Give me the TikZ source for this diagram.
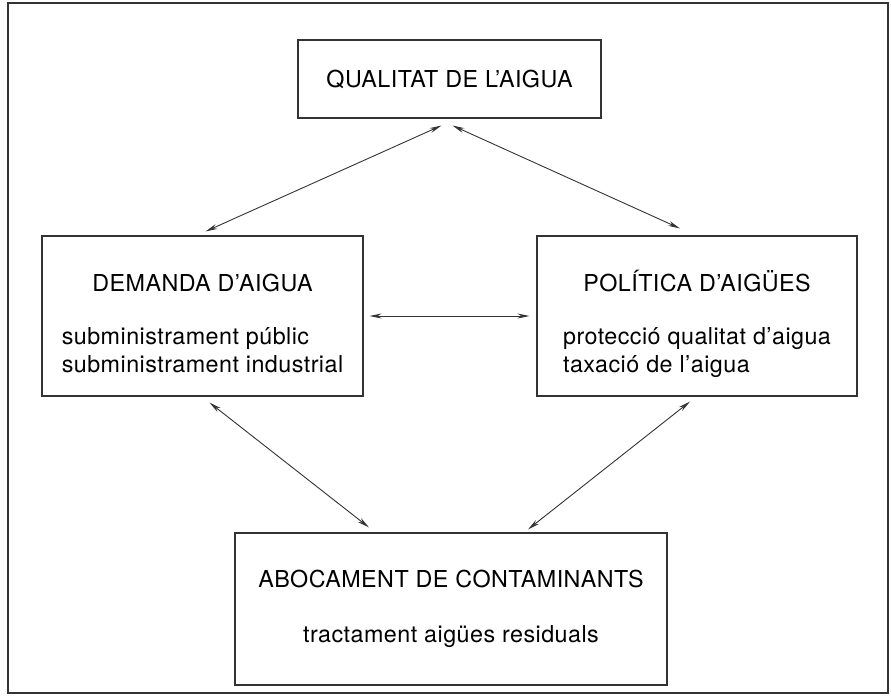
\documentclass[tikz,border=0pt]{standalone}
\usepackage{fontspec}
\setmainfont{TeX Gyre Heros}[LetterSpace=2.0]
\usepackage{tikz}
\usetikzlibrary{arrows.meta, calc}

\begin{document}
\begin{tikzpicture}[
        x=1pt, y=-1pt,
        % Estils de les caixes i de les fletxes
        caixa/.style={rectangle, draw=black!80, line width=1.1pt, inner sep=0pt, font=\fontsize{23.3}{28}\selectfont},
        fletxa/.style={{Stealth[length=12pt, width=5pt]}-{Stealth[length=12pt, width=5pt]}, line width=0.9pt, draw=black!80}
    ]

    % Marc exterior
    \useasboundingbox (0,0) rectangle (891,697);
    \draw [black!80, line width=1.4pt] (8,3) rectangle (888,693);

    % 1. Qualitat
    \node (qualitat) [caixa, minimum width=303pt, minimum height=78pt] at (449.5,79) {QUALITAT DE L'AIGUA};

    % 2. Demanda i politica
    \node (demanda) [caixa, minimum width=321pt, minimum height=160pt] at (202.5,316) {\begin{tabular}{@{}l@{}}\multicolumn{1}{c}{\rule{0pt}{39.6pt}DEMANDA D'AIGUA}\\[25pt] subministrament públic\\ subministrament industrial\end{tabular}};

    \node (politica) [caixa, minimum width=320pt, minimum height=160pt] at (697,316) {\begin{tabular}{@{}l@{}}\multicolumn{1}{c}{\rule{0pt}{39.6pt}POLÍTICA D'AIGÜES}\\[25pt] protecció qualitat d'aigua\\ taxació de l'aigua\end{tabular}};

    % 3. Abocament
    \node (abocament) [caixa, minimum width=432pt, minimum height=152pt, align=center] at (451,609) {ABOCAMENT DE CONTAMINANTS\\[27pt] tractament aigües residuals};

    % Fletxes dobles
    \draw [fletxa] ($(qualitat.south)+(-8,7)$) -- ($(demanda.north)+(3,-4)$);
    \draw [fletxa] ($(qualitat.south)+(3,7)$) -- ($(politica.north)+(-17,-7)$);
    \draw [fletxa] ($(demanda.east)+(6,0)$) -- ($(politica.west)+(-7,0)$);
    \draw [fletxa] ($(demanda.south)+(7,6)$) -- ($(abocament.north)+(-82,-5)$);
    \draw [fletxa] ($(politica.south)+(-7,5)$) -- ($(abocament.north)+(77,-3)$);

\end{tikzpicture}
\end{document}
